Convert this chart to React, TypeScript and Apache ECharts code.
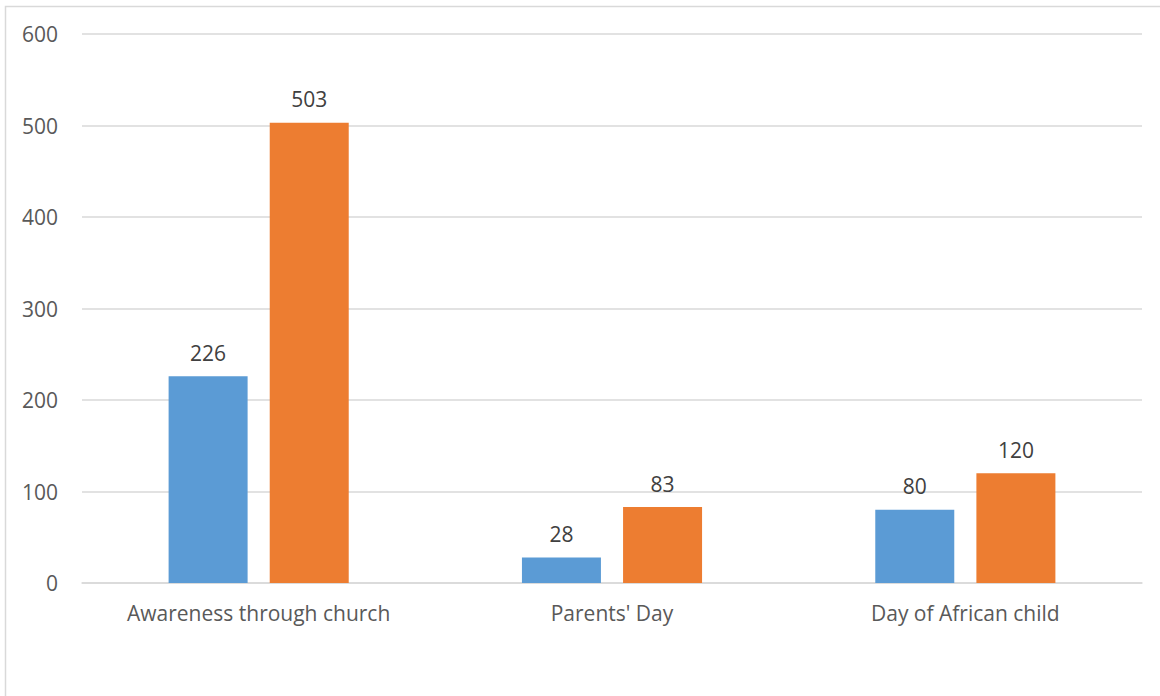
import React, { useEffect, useRef } from "react";
import * as echarts from "echarts";

const categories = ["Awareness through church", "Parents' Day", "Day of African child"];
const seriesA = [226, 28, 80];
const seriesB = [503, 83, 120];

export default function App() {
  const ref = useRef<HTMLDivElement>(null);
  useEffect(() => {
    if (!ref.current) return;
    const chart = echarts.init(ref.current, null, { renderer: "svg" });
    const font = "'Open Sans', 'Noto Sans', sans-serif";
    chart.setOption({
      animation: false,
      backgroundColor: "#ffffff",
      textStyle: { fontFamily: font },
      graphic: [
        {
          type: "rect",
          shape: { x: 5.5, y: 6.5, width: 1300, height: 900 },
          style: { fill: "none", stroke: "#d9d9d9", lineWidth: 1.5 },
          silent: true,
        },
      ],
      grid: { left: 82, right: 18, top: 34, bottom: 113, containLabel: false },
      xAxis: {
        type: "category",
        data: categories,
        axisLine: { lineStyle: { color: "#d9d9d9", width: 1.5 } },
        axisTick: { show: false },
        axisLabel: { color: "#595959", fontSize: 21, margin: 19, fontFamily: font },
      },
      yAxis: {
        type: "value",
        min: 0,
        max: 600,
        interval: 100,
        axisLine: { show: false },
        axisTick: { show: false },
        splitLine: { lineStyle: { color: "#d9d9d9", width: 1.5 } },
        axisLabel: { color: "#595959", fontSize: 21, margin: 24, fontFamily: font },
      },
      series: [
        {
          type: "bar",
          data: seriesA,
          barWidth: 79,
          barGap: "28%",
          itemStyle: { color: "#5B9BD5" },
          label: { show: true, position: "top", distance: 13, color: "#404040", fontSize: 21, fontFamily: font },
        },
        {
          type: "bar",
          data: seriesB,
          barWidth: 79,
          barGap: "28%",
          itemStyle: { color: "#ED7D31" },
          label: { show: true, position: "top", distance: 13, color: "#404040", fontSize: 21, fontFamily: font },
        },
      ],
    });
    return () => chart.dispose();
  }, []);
  return <div ref={ref} style={{ position: "absolute", left: 0, top: 0, width: 1160, height: 696 }} />;
}
